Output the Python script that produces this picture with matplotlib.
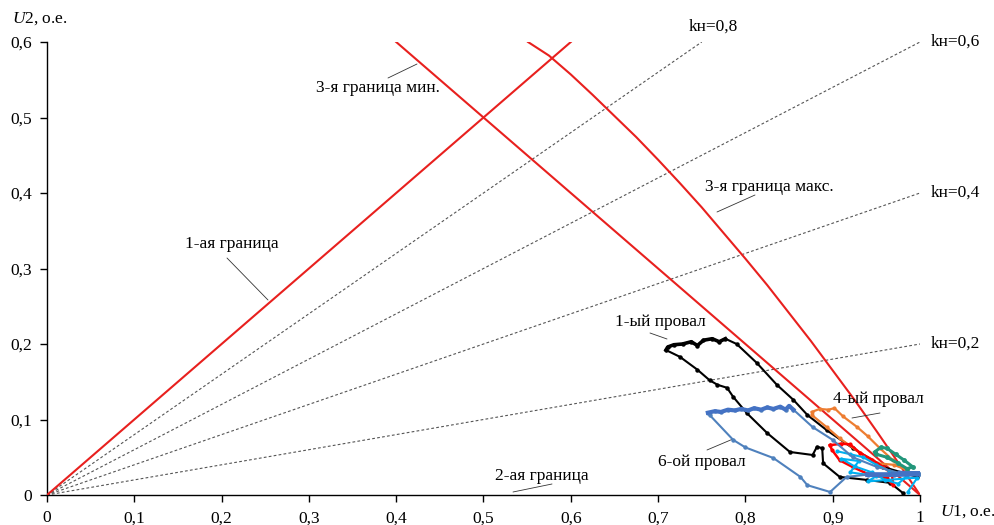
import numpy as np
import matplotlib.pyplot as plt

plt.rcParams['font.family'] = ['Liberation Serif', 'DejaVu Serif']
plt.rcParams['mathtext.fontset'] = 'custom'
plt.rcParams['mathtext.it'] = 'Liberation Serif:italic'
plt.rcParams['mathtext.rm'] = 'Liberation Serif'

# boundaries
b1_u1 = [0.0, 0.6]
b1_u2 = [0.0, 0.6]
b3min_u1 = [0.4, 1.0]
b3min_u2 = [0.6, 0.0]
b3max_u1 = [0.551, 0.575, 0.60, 0.625, 0.65, 0.675, 0.70, 0.725, 0.75, 0.775,
            0.80, 0.825, 0.85, 0.875, 0.90, 0.925, 0.95, 0.975, 1.0]
b3max_u2 = [0.600, 0.582, 0.557, 0.530, 0.502, 0.474, 0.444, 0.413, 0.381, 0.347,
            0.313, 0.278, 0.241, 0.204, 0.165, 0.126, 0.085, 0.043, 0.0]

# unbalance coefficient lines
kn = [0.2, 0.4, 0.6, 0.8]
kn_labels = ['kн=0,2', 'kн=0,4', 'kн=0,6', 'kн=0,8']

# sag trajectories
sag1_u1 = [0.997, 0.958, 0.923, 0.893, 0.871, 0.855, 0.836, 0.813, 0.790, 0.777,
           0.770, 0.762, 0.752, 0.745, 0.738, 0.728, 0.718, 0.711, 0.709,
           0.725, 0.745, 0.759, 0.768, 0.779, 0.786, 0.802, 0.825, 0.851,
           0.877, 0.882, 0.888, 0.889, 0.908, 0.939, 0.966, 0.980]
sag1_u2 = [0.024, 0.037, 0.062, 0.086, 0.106, 0.126, 0.146, 0.175, 0.200, 0.207,
           0.203, 0.207, 0.205, 0.198, 0.203, 0.200, 0.199, 0.196, 0.192,
           0.183, 0.166, 0.152, 0.146, 0.142, 0.130, 0.108, 0.082, 0.057,
           0.053, 0.064, 0.062, 0.042, 0.024, 0.020, 0.016, 0.003]

sag6_u1 = [0.757, 0.765, 0.772, 0.780, 0.788, 0.795, 0.803, 0.810, 0.818, 0.825,
           0.832, 0.840, 0.846, 0.850, 0.855,
           0.877, 0.900, 0.923, 0.951, 0.977, 1.000,
           0.970, 0.940, 0.916, 0.897, 0.871, 0.863, 0.832, 0.800, 0.786, 0.759]
sag6_u2 = [0.109, 0.111, 0.110, 0.113, 0.112, 0.114, 0.112, 0.115, 0.113, 0.116,
           0.114, 0.117, 0.113, 0.118, 0.113,
           0.090, 0.073, 0.050, 0.037, 0.029, 0.028,
           0.027, 0.027, 0.024, 0.004, 0.013, 0.024, 0.049, 0.063, 0.073, 0.106]

sag4_u1 = [0.876, 0.885, 0.895, 0.902, 0.912, 0.928, 0.940, 0.954, 0.969, 0.985,
           0.970, 0.951, 0.931, 0.908, 0.893, 0.876]
sag4_u2 = [0.110, 0.114, 0.113, 0.115, 0.104, 0.090, 0.078, 0.062, 0.046, 0.033,
           0.040, 0.042, 0.056, 0.075, 0.090, 0.106]

red_u1 = [0.897, 0.910, 0.920, 0.931, 0.945, 0.958, 0.968, 0.969,
          0.962, 0.940, 0.923, 0.908, 0.899, 0.897]
red_u2 = [0.066, 0.068, 0.067, 0.056, 0.047, 0.037, 0.028, 0.013,
          0.022, 0.028, 0.037, 0.046, 0.060, 0.066]

cyan_u1 = [0.905, 0.920, 0.935, 0.950, 0.965, 0.985, 0.975, 0.960, 0.945,
           0.925, 0.910, 0.930, 0.920, 0.950, 0.940, 0.997, 0.986]
cyan_u2 = [0.058, 0.054, 0.050, 0.040, 0.032, 0.025, 0.015, 0.020, 0.030,
           0.038, 0.048, 0.045, 0.030, 0.025, 0.018, 0.023, 0.004]

green_u1 = [0.948, 0.955, 0.962, 0.972, 0.982, 0.992, 0.985, 0.975, 0.962, 0.950]
green_u2 = [0.057, 0.063, 0.062, 0.054, 0.046, 0.037, 0.035, 0.042, 0.050, 0.054]

fig = plt.figure(figsize=(9.95, 5.25), dpi=100)
ax = fig.add_axes([47 / 995, 30 / 525, 873 / 995, 453 / 525])

red = '#E8201E'
ax.plot(b1_u1, b1_u2, color=red, lw=1.5, zorder=3)
ax.plot(b3min_u1, b3min_u2, color=red, lw=1.5, zorder=3)
ax.plot(b3max_u1, b3max_u2, color=red, lw=1.5, zorder=3)

for k in kn:
    x_end = min(1.0, 0.6 / k)
    ax.plot([0, x_end], [0, k * x_end], color='#555555', lw=0.8,
            ls=(0, (2.5, 2)), zorder=2)

ax.plot(sag1_u1, sag1_u2, color='black', lw=1.5, marker='o', ms=2.2, zorder=4)
ax.plot(sag1_u1[9:19], sag1_u2[9:19], color='black', lw=2.6, zorder=4)
ax.plot(sag4_u1, sag4_u2, color='#ED7D31', lw=1.6, marker='o', ms=2, zorder=4)
ax.plot(red_u1, red_u2, color='#FF0000', lw=1.8, marker='o', ms=2, zorder=4)
ax.plot(cyan_u1, cyan_u2, color='#00B0F0', lw=1.5, marker='o', ms=2, zorder=4)
ax.plot(green_u1, green_u2, color='#22967A', lw=2.2, marker='o', ms=2.5, zorder=4)
ax.plot(sag6_u1, sag6_u2, color='#4F81BD', lw=1.5, marker='o', ms=2.2, zorder=5)
ax.plot(sag6_u1[:15], sag6_u2[:15], color='#4472C4', lw=3, zorder=5)
ax.plot(sag6_u1[19:23], sag6_u2[19:23], color='#4472C4', lw=3.5, zorder=5)

ax.set_xlim(0, 1)
ax.set_ylim(0, 0.6)
ax.spines['top'].set_visible(False)
ax.spines['right'].set_visible(False)
ax.spines['left'].set_linewidth(1.0)
ax.spines['bottom'].set_linewidth(1.0)
ax.set_xticks(np.arange(0, 1.01, 0.1))
ax.set_yticks(np.arange(0, 0.61, 0.1))
fmt = lambda v: ('%g' % round(v, 1)).replace('.', ',')
ax.set_xticklabels([fmt(v) for v in np.arange(0, 1.01, 0.1)])
ax.set_yticklabels([fmt(v) for v in np.arange(0, 0.61, 0.1)])
ax.tick_params(direction='out', length=5, width=1, labelsize=12.5, pad=6)

fs = 12.5
ax.text(-0.04, 0.62, r'$\it{U}$2, о.е.', fontsize=fs, ha='left', va='bottom')
ax.text(1.023, -0.0225, r'$\it{U}$1, о.е.', fontsize=fs, ha='left', va='center')

for k, lab in zip(kn, kn_labels):
    x_end = min(1.0, 0.6 / k)
    if x_end < 1.0:
        ax.text(x_end - 0.015, 0.6 + 0.02, lab, fontsize=fs, ha='left', va='center')
    else:
        ax.text(1.012, k, lab, fontsize=fs, ha='left', va='center')

px = lambda x: (x - 47) / 873
py = lambda y: (495 - y) / 755

def note(text, xy_text, p0, p1):
    ax.annotate('', xy=(px(p1[0]), py(p1[1])), xytext=(px(p0[0]), py(p0[1])),
                arrowprops=dict(arrowstyle='-', color='#333333', lw=0.6,
                                shrinkA=0, shrinkB=0))
    ax.text(px(xy_text[0]), py(xy_text[1]), text, fontsize=fs,
            ha='center', va='center')

note('1-ая граница', (232, 244), (227, 258), (268, 300))
note('3-я граница мин.', (378, 88), (388, 78), (417, 64))
note('3-я граница макс.', (769, 187), (717, 212), (755, 195))
note('2-ая граница', (542, 476), (513, 492), (552, 484))
note('1-ый провал', (660, 322), (650, 333), (667, 339))
note('4-ый провал', (878, 399), (852, 418), (880, 413))
note('6-ой провал', (702, 462), (707, 450), (733, 439))

fig.savefig('out.png', dpi=100)
